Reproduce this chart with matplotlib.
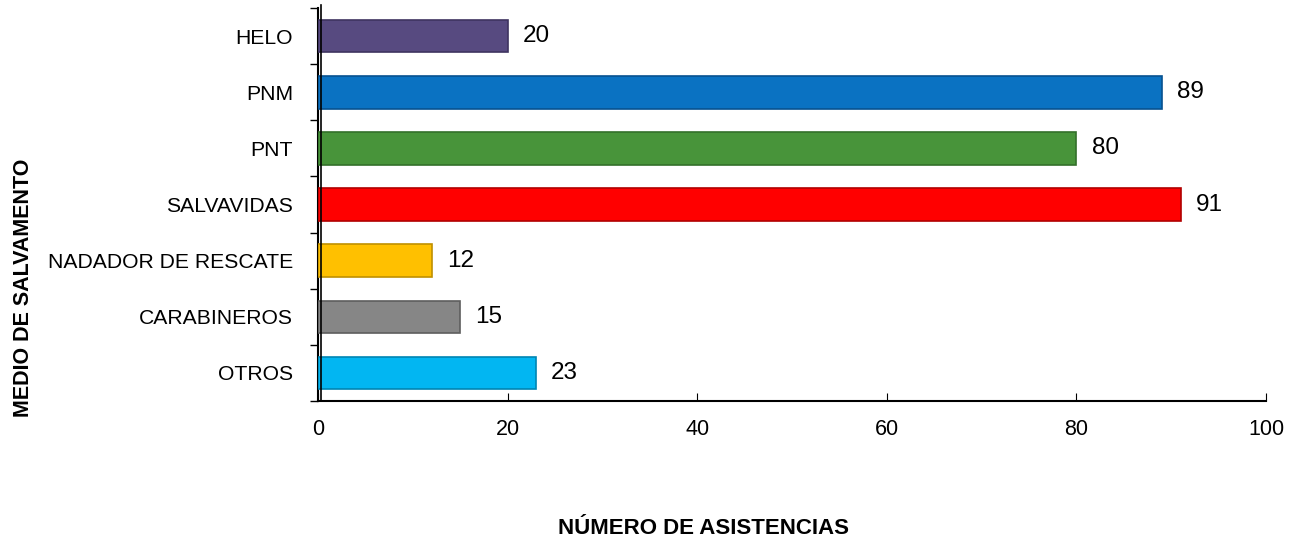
import matplotlib.pyplot as plt
import numpy as np

categorias = ['HELO', 'PNM', 'PNT', 'SALVAVIDAS', 'NADADOR DE RESCATE', 'CARABINEROS', 'OTROS']
asistencias = [20, 89, 80, 91, 12, 15, 23]
colores = ['#574A80', '#0A72C2', '#48943A', '#FF0000', '#FFC000', '#868686', '#02B6F2']
bordes = ['#3E3460', '#075290', '#33702A', '#B00000', '#C09000', '#5E5E5E', '#0085B3']

plt.rcParams['font.family'] = ['Liberation Sans', 'DejaVu Sans']

fig = plt.figure(figsize=(12.94, 5.41), dpi=100)
ax = fig.add_axes([0.2457, 0.2588, 0.7327, 0.7262])

y = np.arange(len(categorias))
ax.barh(y, asistencias, height=0.58, color=colores, edgecolor=bordes, linewidth=1.2, zorder=3)
for yi, v in zip(y, asistencias):
    ax.text(v + 1.6, yi, str(v), va='center', ha='left', fontsize=17.5)

ax.set_xlim(0, 100)
ax.set_ylim(len(categorias) - 0.5, -0.5)
ax.set_yticks(y)
ax.set_yticklabels(categorias, fontsize=15.2)
ax.set_yticks(np.arange(-0.5, len(categorias), 1), minor=True)
ax.tick_params(axis='y', which='major', length=0, pad=18)
ax.tick_params(axis='y', which='minor', length=6, direction='out', width=1)
ax.set_xticks([0, 20, 40, 60, 80, 100])
ax.tick_params(axis='x', labelsize=15.5, direction='in', length=6, pad=13)

for s in ['top', 'right']:
    ax.spines[s].set_visible(False)
ax.spines['left'].set_linewidth(1.5)
ax.spines['bottom'].set_linewidth(1.5)
# segunda linea del eje (efecto 3D)
ax.plot([0.3, 0.3], [len(categorias) - 0.5, -0.55], color='black', lw=1.2, clip_on=False, zorder=4)

fig.text(0.544, 0.024, 'NÚMERO DE ASISTENCIAS', ha='center', va='center', fontsize=16, fontweight='bold')
fig.text(0.0185, 0.468, 'MEDIO DE SALVAMENTO', ha='center', va='center', rotation=90, fontsize=15.5, fontweight='bold')

fig.savefig('out.png', dpi=100)
